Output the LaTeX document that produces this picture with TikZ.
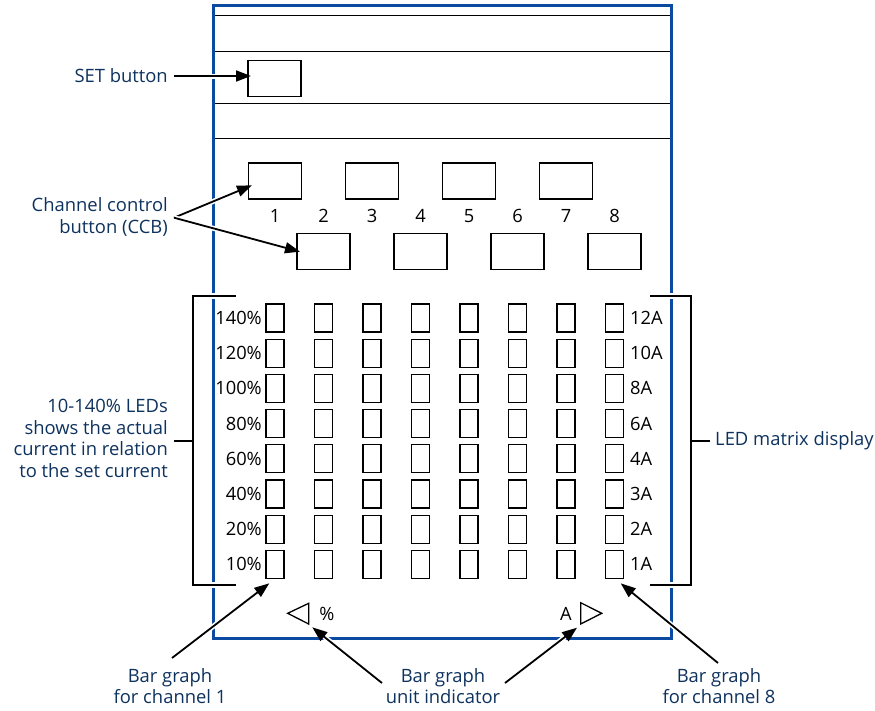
\documentclass[tikz,border=0pt]{standalone}
\usepackage{fontspec}
\setmainfont{Open Sans}
\usetikzlibrary{arrows.meta}
\definecolor{navy}{RGB}{14,50,94}
\definecolor{frameblue}{RGB}{10,74,160}
\begin{document}
\begin{tikzpicture}[x=1pt,y=-1pt,
  lbl/.style={text=navy, font=\fontsize{18.4}{21.5}\selectfont, inner sep=0pt},
  num/.style={font=\fontsize{18.3}{20}\selectfont, inner sep=0pt},
  btn/.style={draw, line width=1.3pt, minimum width=53pt, minimum height=36pt, inner sep=0pt},
  led/.style={draw, line width=1.3pt, minimum width=18pt, minimum height=28pt, inner sep=0pt},
  thin/.style={line width=1.3pt},
  arr/.style={line width=1.8pt, -{Triangle[length=15pt,width=11pt]},
    preaction={draw=white, line width=5pt, arrows=-, shorten >=14pt}},
  halo/.style={white, line width=6pt},
]
\useasboundingbox (0,0) rectangle (875,710);

% panel lines
\foreach \yy in {15.7,51.7,103.7,138.7}
  \draw[thin] (213,\yy) -- (671,\yy);
% frame
\draw[frameblue, line width=3pt] (213,5.5) rectangle (671,638.3);

% SET button
\node[btn] (setbtn) at (274.5,78.5) {};

% channel buttons and numbers
\foreach \c in {1,3,5,7}
  \node[btn] (ccb\c) at ({275+48.5*(\c-1)},181) {};
\foreach \c in {2,4,6,8}
  \node[btn] (ccb\c) at ({275+48.5*(\c-1)},251.3) {};
\foreach \c in {1,...,8}
  \node[num] (num\c) at ({275+48.5*(\c-1)},216) {\c};

% LED matrix
\foreach \c in {1,...,8}
  \foreach \r in {1,...,8}
    \node[led] (L\c-\r) at ({275+48.5*(\c-1)},{318+35.2*(\r-1)}) {};
\foreach \t [count=\r] in {140\%,120\%,100\%,80\%,60\%,40\%,20\%,10\%}
  \node[num, anchor=east] (pl\r) at (262,{318+35.2*(\r-1)}) {\t};
\foreach \t [count=\r] in {12A,10A,8A,6A,4A,3A,2A,1A}
  \node[num, anchor=west] (al\r) at (630,{318+35.2*(\r-1)}) {\t};

% brackets
\draw[halo] (207,296) -- (219,296);
\draw[halo] (207,585) -- (219,585);
\draw[halo] (665,296) -- (677,296);
\draw[halo] (665,585) -- (677,585);
\draw[thin] (236,296) -- (193,296) -- (193,585) -- (236,585);
\draw[thin] (193,441) -- (174,441);
\draw[thin] (650,296) -- (691,296) -- (691,585) -- (650,585);
\draw[thin] (691,441) -- (710,441);

% unit indicators
\draw[thin, line join=miter] (308.7,603.3) -- (287.7,613.3) -- (308.7,624) -- cycle;
\draw[thin, line join=miter] (580.7,602.7) -- (601.7,613.3) -- (580.7,624) -- cycle;
\node[num] (pct) at (327,614) {\%};
\node[num] (amp) at (566,614) {A};

% labels
\node[lbl, anchor=east] (setlbl) at (168,75.5) {SET button};
\node[lbl, anchor=east, align=right, font=\fontsize{18.4}{22.6}\selectfont] (ccblbl) at (168,217) {Channel control\\button (CCB)};
\node[lbl, anchor=east, align=right] (ledlbl) at (168,438.5) {10-140\% LEDs\\shows the actual\\current in relation\\to the set current};
\node[lbl, anchor=west] (matlbl) at (715,441) {LED matrix display};
\node[lbl, anchor=north, align=center, font=\fontsize{18.4}{20.5}\selectfont] (bg1) at (170,668.5) {Bar graph\\for channel 1};
\node[lbl, anchor=north, align=center, font=\fontsize{18.4}{20.5}\selectfont] (bgu) at (443,668.5) {Bar graph\\unit indicator};
\node[lbl, anchor=north, align=center, font=\fontsize{18.4}{20.5}\selectfont] (bg8) at (719,668.5) {Bar graph\\for channel 8};

% arrow end points
\coordinate (setTail) at (174,76);
\coordinate (setTip) at (251,76);
\coordinate (ccbTail) at (174,217.7);
\coordinate (ccbTip1) at (252,185.3);
\coordinate (ccbTip2) at (300,251.7);
\coordinate (ch1Tail) at (172,658);
\coordinate (ch1Tip) at (269.3,583.3);
\coordinate (uTail1) at (382,683);
\coordinate (uTip1) at (312.3,627.3);
\coordinate (uTail2) at (505,683);
\coordinate (uTip2) at (577,627.7);
\coordinate (ch8Tail) at (718,663);
\coordinate (ch8Tip) at (620.7,583.3);

\draw[arr] (setTail) -- (setTip);
\draw[arr] (ccbTail) -- (ccbTip1);
\draw[arr] (ccbTail) -- (ccbTip2);
\draw[arr] (ch1Tail) -- (ch1Tip);
\draw[arr] (uTail1) -- (uTip1);
\draw[arr] (uTail2) -- (uTip2);
\draw[arr] (ch8Tail) -- (ch8Tip);
\end{tikzpicture}
\end{document}
